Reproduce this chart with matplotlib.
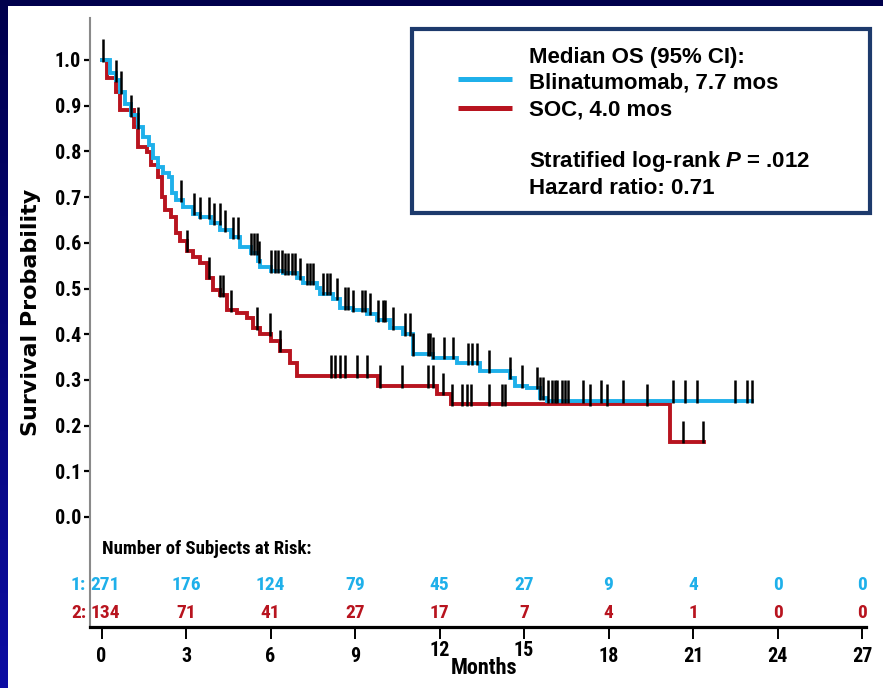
import numpy as np
import matplotlib
matplotlib.use("Agg")
import matplotlib.pyplot as plt
import matplotlib.font_manager as fm
from matplotlib.patches import Rectangle
from matplotlib.lines import Line2D
from matplotlib.transforms import ScaledTranslation

plt.rcParams['mathtext.fontset'] = 'custom'
plt.rcParams['mathtext.it'] = 'Liberation Sans:italic:bold'
plt.rcParams['mathtext.rm'] = 'Liberation Sans:bold'

# ---------------- data ----------------
blina_t = [0, 0.30, 0.50, 0.67, 0.85, 1.03, 1.28, 1.49, 1.67, 1.84, 1.99, 2.20, 2.40, 2.52,
           2.63, 2.91, 3.26, 3.51, 3.87, 4.22, 4.58, 4.93, 5.29, 5.55, 5.64, 6.00, 6.46,
           6.95, 7.17, 7.66, 7.77, 8.23, 8.48, 8.94, 9.44, 9.79, 10.25, 10.71, 11.07,
           11.78, 12.63, 13.44, 14.51, 14.69, 15.11, 15.57, 15.82]
blina_s = [1.0, 0.971, 0.956, 0.930, 0.904, 0.879, 0.853, 0.831, 0.814, 0.785, 0.765, 0.752,
           0.745, 0.708, 0.693, 0.678, 0.664, 0.656, 0.643, 0.627, 0.612, 0.590, 0.577,
           0.560, 0.546, 0.539, 0.533, 0.522, 0.511, 0.502, 0.489, 0.478, 0.458, 0.452,
           0.445, 0.430, 0.414, 0.401, 0.357, 0.349, 0.336, 0.320, 0.305, 0.287, 0.283,
           0.261, 0.254]
blina_end = 23.10

soc_t = [0, 0.21, 0.50, 0.67, 1.14, 1.28, 1.63, 1.74, 1.99, 2.16, 2.27, 2.45, 2.63, 2.80,
         3.05, 3.26, 3.51, 3.76, 3.97, 4.22, 4.47, 4.82, 5.18, 5.39, 5.64, 6.00, 6.35,
         6.70, 6.95, 9.80, 11.90, 12.40, 20.20]
soc_s = [1.0, 0.960, 0.930, 0.890, 0.853, 0.809, 0.798, 0.770, 0.743, 0.700, 0.671, 0.656,
         0.621, 0.605, 0.583, 0.568, 0.555, 0.524, 0.496, 0.485, 0.452, 0.447, 0.436,
         0.414, 0.401, 0.386, 0.364, 0.338, 0.309, 0.287, 0.270, 0.247, 0.165]
soc_end = 21.40

blina_cens = [0.07, 0.50, 0.71, 1.03, 1.31, 2.84, 3.30, 3.51, 3.83, 4.01, 4.19, 4.40, 4.68,
              4.86, 5.32, 5.43, 5.53, 5.60, 6.03, 6.17, 6.28, 6.42, 6.53, 6.63, 6.78, 6.88,
              7.06, 7.31, 7.41, 7.52, 7.88, 8.02, 8.12, 8.37, 8.66, 8.76, 8.94, 9.26, 9.37,
              9.54, 9.83, 10.00, 10.07, 10.36, 10.78, 10.96, 11.07, 11.60, 11.67, 11.78,
              12.17, 12.49, 13.02, 13.16, 13.34, 13.76, 14.51, 14.93, 15.47, 15.57, 15.68,
              15.86, 16.00, 16.11, 16.18, 16.35, 16.46, 16.57, 17.10, 17.74, 18.52, 20.29,
              20.72, 21.14, 22.49, 22.92, 23.10]
soc_cens = [3.05, 3.80, 4.22, 4.33, 4.58, 5.53, 5.99, 6.35, 8.16, 8.30, 8.48, 8.66, 9.08,
            9.44, 9.90, 10.68, 11.60, 11.78, 12.13, 12.45, 12.81, 12.98, 13.13, 13.76,
            14.22, 14.33, 17.35, 17.95, 19.37, 20.65, 21.35]

risk_months = [0, 3, 6, 9, 12, 15, 18, 21, 24, 27]
risk_blina = [271, 176, 124, 79, 45, 27, 9, 4, 0, 0]
risk_soc = [134, 71, 41, 27, 17, 7, 4, 1, 0, 0]

x_ticks = [0, 3, 6, 9, 12, 15, 18, 21, 24, 27]
y_ticks = [0.0, 0.1, 0.2, 0.3, 0.4, 0.5, 0.6, 0.7, 0.8, 0.9, 1.0]

legend_lines = ["Median OS (95% CI):", "Blinatumomab, 7.7 mos", "SOC, 4.0 mos",
                "Stratified log-rank $P$ = .012", "Hazard ratio: 0.71"]

# ---------------- fonts ----------------
names = {f.name for f in fm.fontManager.ttflist}
narrow_kw = None
for cand in ['Liberation Sans Narrow', 'Arial Narrow', 'Roboto Condensed',
             'Open Sans Condensed', 'Noto Sans Condensed']:
    if cand in names:
        narrow_kw = dict(family=[cand, 'Liberation Sans'])
        NSCALE = 1.0
        break
if narrow_kw is None:
    cond = [f for f in fm.fontManager.ttflist
            if str(f.stretch) in ('condensed', 'semi-condensed', 'extra-condensed')
            and 'Sans' in f.name]
    if cond:
        narrow_kw = dict(family=[cond[0].name], fontstretch='condensed')
        NSCALE = 1.0
    else:
        narrow_kw = dict(family=['Liberation Sans'])
        NSCALE = 0.9

# ---------------- style ----------------
BLUE = '#1fb0ea'
RED = '#b8141f'
W, H = 883, 688

fig = plt.figure(figsize=(W / 100, H / 100), dpi=100)

# background: navy gradient frame + white panel
bg = fig.add_axes([0, 0, 1, 1], zorder=-10)
bg.axis('off')
g = np.linspace(0, 1, 256).reshape(-1, 1)
top = np.array([0.0, 0.0, 0.30])
bot = np.array([0.05, 0.05, 0.64])
img = top[None, None, :] * (1 - g[:, :, None]) + bot[None, None, :] * g[:, :, None]
bg.imshow(img, aspect='auto', extent=[0, 1, 0, 1], origin='upper')
bg.add_patch(Rectangle((8 / W, 0), 1, 1 - 6 / H, transform=bg.transAxes,
                       facecolor='white', edgecolor='none'))
bg.set_xlim(0, 1)
bg.set_ylim(0, 1)

# main axes
ax = fig.add_axes([90 / W, 1 - 627 / H, (866 - 90) / W, (627 - 18) / H])
ax.set_facecolor('none')
pxm = (862 - 101.5) / 27.0
ax.set_xlim((90 - 101.5) / pxm, (866 - 101.5) / pxm)
ax.set_ylim((517 - 627) / 457.0, (517 - 18) / 457.0)

for sp in ['top', 'right']:
    ax.spines[sp].set_visible(False)
ax.spines['left'].set_color('#8a8a8a')
ax.spines['left'].set_linewidth(1.5)
ax.spines['bottom'].set_color('black')
ax.spines['bottom'].set_linewidth(2.3)


def step_val(ts, ss, x):
    i = np.searchsorted(np.asarray(ts), x, side='right') - 1
    return np.asarray(ss)[i]


for ts, ss, tend, col in [(soc_t, soc_s, soc_end, RED),
                          (blina_t, blina_s, blina_end, BLUE)]:
    xs = np.r_[ts, tend]
    ys = np.r_[ss, ss[-1]]
    ax.step(xs, ys, where='post', color=col, lw=2.8, zorder=3, solid_joinstyle='miter')

for ts, ss, cens in [(soc_t, soc_s, soc_cens), (blina_t, blina_s, blina_cens)]:
    c = np.asarray(cens)
    sv = step_val(ts, ss, c)
    ax.vlines(c, sv - 0.004, sv + 0.045, colors='black', lw=1.8, zorder=4)

ax.set_xticks(x_ticks)
ax.set_xticklabels([str(v) for v in x_ticks])
ax.set_yticks(y_ticks)
ax.set_yticklabels([f"{v:.1f}" for v in y_ticks])
ax.tick_params(axis='x', direction='out', length=8.6, width=1.4, pad=6, colors='black')
ax.tick_params(axis='y', direction='out', length=4.3, width=1.6, pad=2, colors='black')
for lab in ax.get_xticklabels() + ax.get_yticklabels():
    lab.set_fontproperties(fm.FontProperties(weight='bold', size=14.5 * NSCALE,
                                             **{('stretch' if k == 'fontstretch' else k): v
                                                for k, v in narrow_kw.items()}))
for lab in ax.get_xticklabels():
    if lab.get_text() in ('12', '15'):
        lab.set_transform(lab.get_transform() + ScaledTranslation(0, 6 / 100, fig.dpi_scale_trans))

# risk table
ax.text(0.0, -0.070, "Number of Subjects at Risk:", ha='left', va='center',
        fontsize=13.5 * NSCALE, fontweight='bold', color='black', **narrow_kw)
y1, y2 = -0.149, -0.210
ax.text((86 - 101.5) / pxm, y1, "1:", ha='right', va='center', fontsize=14 * NSCALE,
        fontweight='bold', color=BLUE, clip_on=False, **narrow_kw)
ax.text((86 - 101.5) / pxm, y2, "2:", ha='right', va='center', fontsize=14 * NSCALE,
        fontweight='bold', color=RED, clip_on=False, **narrow_kw)
for m, nb, ns in zip(risk_months, risk_blina, risk_soc):
    xm = m + (0.12 if m == 0 else 0)
    ax.text(xm, y1, str(nb), ha='center', va='center', fontsize=14 * NSCALE,
            fontweight='bold', color=BLUE, **narrow_kw)
    ax.text(xm, y2, str(ns), ha='center', va='center', fontsize=14 * NSCALE,
            fontweight='bold', color=RED, **narrow_kw)

# axis labels
fig.text(484 / W, 1 - 668 / H, "Months", ha='center', va='center', fontsize=16 * NSCALE,
         fontweight='bold', **narrow_kw)
fig.text(31 / W, 1 - 312 / H, "Survival Probability", ha='center', va='center',
         rotation=90, fontsize=16, fontweight='bold', family=['DejaVu Sans'])

# legend box
fig.add_artist(Rectangle((412 / W, 1 - 213 / H), (870 - 412) / W, (213 - 29) / H,
                         transform=fig.transFigure, facecolor='white',
                         edgecolor='#1d3a6c', lw=3, zorder=5))
fig.add_artist(Line2D([458 / W, 512 / W], [1 - 79 / H] * 2, transform=fig.transFigure,
                      color=BLUE, lw=3.6, zorder=6, solid_capstyle='butt'))
fig.add_artist(Line2D([458 / W, 512 / W], [1 - 108 / H] * 2, transform=fig.transFigure,
                      color=RED, lw=3.6, zorder=6, solid_capstyle='butt'))
for txt, yp in zip(legend_lines, [57, 83, 110, 162, 188]):
    fig.text(529 / W, 1 - yp / H, txt, ha='left', va='center', fontsize=16,
             fontweight='bold', family=['Liberation Sans'], zorder=7)

fig.savefig("out.png", dpi=100)
